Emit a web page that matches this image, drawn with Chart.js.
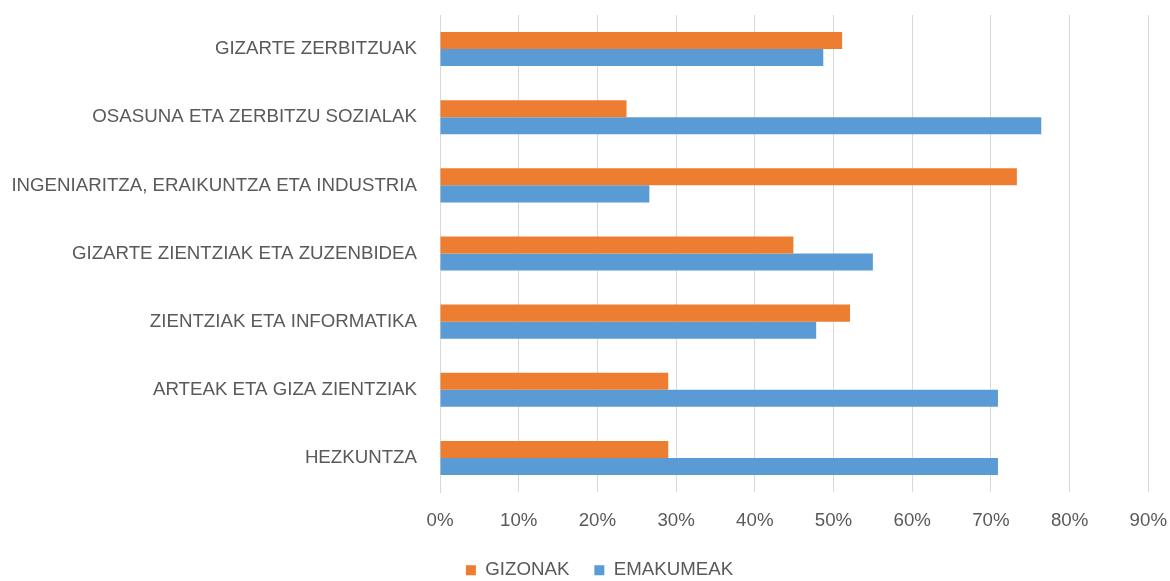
<!DOCTYPE html>
<html>
<head>
<meta charset="utf-8">
<script src="https://cdn.jsdelivr.net/npm/chart.js@4.4.0/dist/chart.umd.min.js"></script>
<style>
  html, body { margin: 0; padding: 0; background: #fff; }
  #wrap { width: 1170px; height: 581px; }
</style>
</head>
<body>
<div id="wrap"><canvas id="chart"></canvas></div>
<script>
// datuak
const categories = [
  "GIZARTE ZERBITZUAK",
  "OSASUNA ETA ZERBITZU SOZIALAK",
  "INGENIARITZA, ERAIKUNTZA ETA INDUSTRIA",
  "GIZARTE ZIENTZIAK ETA ZUZENBIDEA",
  "ZIENTZIAK ETA INFORMATIKA",
  "ARTEAK ETA GIZA ZIENTZIAK",
  "HEZKUNTZA"
];
const gizonak = [51.1, 23.7, 73.3, 44.9, 52.1, 29.0, 29.0];
const emakumeak = [48.7, 76.4, 26.6, 55.0, 47.8, 70.9, 70.9];
const xTicks = [0, 10, 20, 30, 40, 50, 60, 70, 80, 90];

const textColor = "#595959";
const fontFamily = "'Liberation Sans', Arial, sans-serif";
const fontSize = 18.7;

const ctx = document.getElementById("chart").getContext("2d");
new Chart(ctx, {
  type: "bar",
  data: {
    labels: categories,
    datasets: [
      {
        label: "GIZONAK",
        data: gizonak,
        backgroundColor: "#ED7D31",
        barPercentage: 1,
        categoryPercentage: 0.5
      },
      {
        label: "EMAKUMEAK",
        data: emakumeak,
        backgroundColor: "#5B9BD5",
        barPercentage: 1,
        categoryPercentage: 0.5
      }
    ]
  },
  options: {
    indexAxis: "y",
    responsive: true,
    maintainAspectRatio: false,
    animation: false,
    // eskuin aldeko padding negatiboa: legenda pixka bat eskuinera
    layout: { padding: { top: 15, right: -29, left: 0, bottom: -8.5 } },
    scales: {
      x: {
        min: 0,
        max: 90,
        afterBuildTicks: (scale) => {
          scale.ticks = xTicks.map((v) => ({ value: v }));
        },
        afterFit: (scale) => { scale.height = 43.8; },
        ticks: {
          callback: (v) => v + "%",
          color: textColor,
          font: { family: fontFamily, size: fontSize },
          padding: 3,
          maxRotation: 0
        },
        grid: {
          color: "#D9D9D9",
          lineWidth: 1,
          drawTicks: true,
          tickLength: 15,
          tickColor: "rgba(0,0,0,0)"
        },
        border: { display: false }
      },
      y: {
        afterFit: (scale) => { scale.width = 440; },
        ticks: {
          color: textColor,
          font: { family: fontFamily, size: fontSize },
          padding: 0
        },
        grid: { display: false, drawTicks: true, tickLength: 23 },
        border: { display: true, color: "#D9D9D9" }
      }
    },
    plugins: {
      legend: {
        position: "bottom",
        labels: {
          color: textColor,
          font: { family: fontFamily, size: fontSize },
          boxWidth: 10,
          boxHeight: 10,
          padding: 25
        }
      },
      tooltip: { enabled: false }
    }
  }
});
</script>
</body>
</html>
